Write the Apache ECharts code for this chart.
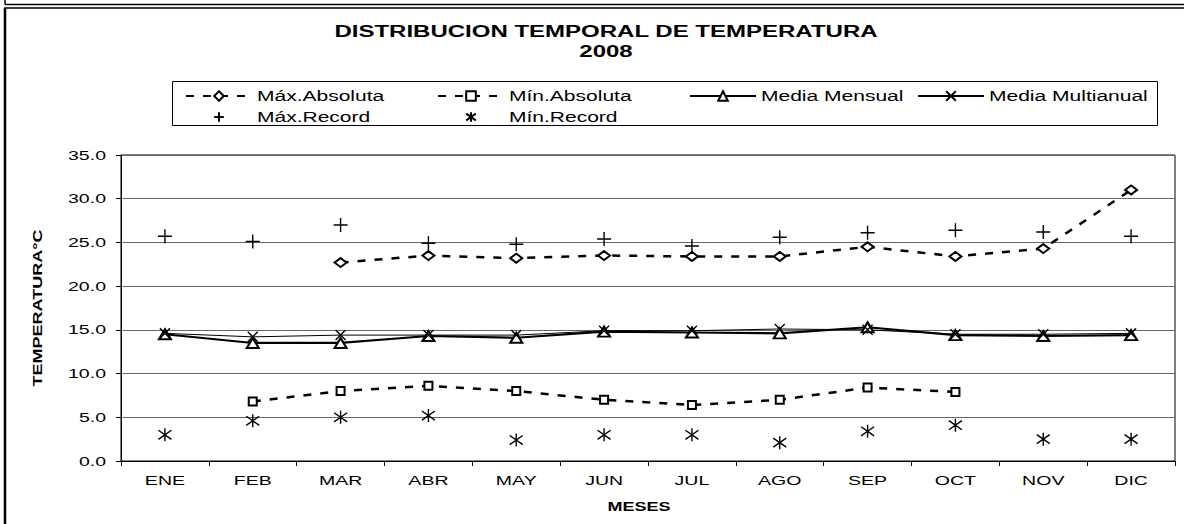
<!DOCTYPE html>
<html>
<head>
<meta charset="utf-8">
<script src="https://cdn.jsdelivr.net/npm/echarts@6/dist/echarts.min.js"></script>
<style>
  html, body { margin: 0; padding: 0; background: #fff; }
  #chart { width: 1184px; height: 524px; }
</style>
</head>
<body>
<div id="chart"></div>
<script>
// Meses y valores (°C)
const meses = ['ENE', 'FEB', 'MAR', 'ABR', 'MAY', 'JUN', 'JUL', 'AGO', 'SEP', 'OCT', 'NOV', 'DIC']
const maxAbsoluta = [null, null, 22.7, 23.5, 23.2, 23.5, 23.4, 23.4, 24.5, 23.4, 24.3, 31.0]
const minAbsoluta = [null, 6.8, 8.0, 8.6, 8.0, 7.0, 6.4, 7.0, 8.4, 7.9, null, null]
const mediaMensual = [14.5, 13.5, 13.5, 14.3, 14.1, 14.8, 14.7, 14.6, 15.3, 14.4, 14.3, 14.4]
const mediaMultianual = [14.6, 14.2, 14.4, 14.4, 14.4, 14.9, 14.9, 15.1, 15.0, 14.5, 14.5, 14.6]
const maxRecord = [25.7, 25.1, 27.0, 24.9, 24.8, 25.4, 24.6, 25.6, 26.1, 26.4, 26.2, 25.7]
const minRecord = [3.0, 4.6, 5.0, 5.2, 2.4, 3.0, 3.0, 2.1, 3.4, 4.1, 2.5, 2.5]
const yTicks = { min: 0, max: 35, interval: 5 }

const FONT = 'Liberation Sans, Arial, sans-serif'
const BLACK = '#000'

// simbolos de trazo (sin relleno)
const SYM_PLUS = 'path://M5,0L5,10M0,5L10,5'
const SYM_CROSS = 'path://M0,0L10,10M10,0L0,10'
const SYM_STAR = 'path://M0,1.5L10,8.5M10,1.5L0,8.5M5,0L5,10'

const chart = echarts.init(document.getElementById('chart'), null, { renderer: 'svg' })

const mark = { color: BLACK, borderColor: BLACK, borderWidth: 1.2 }

const series = [
  {
    type: 'line',
    name: 'Máx.Absoluta',
    data: maxAbsoluta,
    symbol: 'emptyDiamond',
    symbolSize: [12, 9],
    lineStyle: { color: BLACK, width: 2.5, type: [8, 9] },
    itemStyle: mark,
    z: 3,
  },
  {
    type: 'line',
    name: 'Mín.Absoluta',
    data: minAbsoluta,
    symbol: 'emptyRect',
    symbolSize: 8,
    lineStyle: { color: BLACK, width: 2.5, type: [8, 9] },
    itemStyle: mark,
    z: 3,
  },
  {
    type: 'line',
    name: 'Media Mensual',
    data: mediaMensual,
    symbol: 'emptyTriangle',
    symbolSize: [12, 10],
    lineStyle: { color: BLACK, width: 2.2 },
    itemStyle: mark,
    z: 3,
  },
  {
    type: 'line',
    name: 'Media Multianual',
    data: mediaMultianual,
    symbol: SYM_CROSS,
    symbolSize: 10,
    lineStyle: { color: BLACK, width: 1 },
    itemStyle: { ...mark, borderWidth: 1.4 },
    z: 3,
  },
  // records: solo marcadores, la linea va invisible (asi la leyenda centra el simbolo)
  {
    type: 'line',
    name: 'Máx.Record',
    data: maxRecord,
    symbol: SYM_PLUS,
    symbolSize: 14,
    lineStyle: { opacity: 0 },
    itemStyle: { ...mark, borderWidth: 1.4 },
    z: 4,
  },
  {
    type: 'line',
    name: 'Mín.Record',
    data: minRecord,
    symbol: SYM_STAR,
    symbolSize: 13,
    lineStyle: { opacity: 0 },
    itemStyle: { ...mark, borderWidth: 1.4 },
    z: 4,
  },
]

// posicion de cada entrada de la leyenda (dos filas)
const legendPos = [
  [180, 84], [432, 84], [684, 84], [912, 84],
  [180, 105], [432, 105],
]
const legends = series.map((s, i) => ({
  data: [s.name],
  left: legendPos[i][0],
  top: legendPos[i][1],
  itemWidth: 66,
  itemHeight: 12,
  itemGap: 0,
  selectedMode: false,
  textStyle: { fontFamily: FONT, fontSize: 14, color: BLACK },
}))

const option = {
  backgroundColor: '#fff',
  animation: false,
  title: {
    text: 'DISTRIBUCION TEMPORAL DE TEMPERATURA\n2008',
    left: 601,
    top: 16,
    textAlign: 'center',
    textStyle: { fontFamily: FONT, fontSize: 16, fontWeight: 'bold', color: BLACK, lineHeight: 20 },
  },
  legend: legends,
  graphic: [
    // marco exterior
    { type: 'line', shape: { x1: 5, y1: 4.5, x2: 1184, y2: 4.5 }, style: { stroke: BLACK, lineWidth: 1.5 } },
    { type: 'line', shape: { x1: 5, y1: 0, x2: 5, y2: 4.5 }, style: { stroke: BLACK, lineWidth: 1.5 } },
    { type: 'line', shape: { x1: 4, y1: 8, x2: 1184, y2: 8 }, style: { stroke: BLACK, lineWidth: 1.5 } },
    { type: 'line', shape: { x1: 5, y1: 8, x2: 5, y2: 524 }, style: { stroke: BLACK, lineWidth: 2.5 } },
    // recuadro de la leyenda
    { type: 'rect', shape: { x: 172.5, y: 81.5, width: 985, height: 44 }, style: { fill: 'none', stroke: BLACK, lineWidth: 1 }, z: -1 },
  ],
  grid: {
    left: 121,
    right: 9,
    top: 155,
    bottom: 63,
    show: true,
    borderColor: BLACK,
    borderWidth: 1,
    backgroundColor: '#fff',
  },
  xAxis: {
    type: 'category',
    data: meses,
    boundaryGap: true,
    name: 'MESES',
    nameLocation: 'middle',
    nameGap: 40,
    nameTextStyle: { fontFamily: FONT, fontSize: 12, fontWeight: 'bold', color: BLACK, padding: [0, 18, 0, 0] },
    axisLine: { lineStyle: { color: BLACK, width: 1 } },
    axisTick: { show: true, alignWithLabel: false, length: 5, lineStyle: { color: BLACK } },
    axisLabel: { fontFamily: FONT, fontSize: 13, color: BLACK, margin: 13 },
    splitLine: { show: false },
  },
  yAxis: {
    type: 'value',
    min: yTicks.min,
    max: yTicks.max,
    interval: yTicks.interval,
    name: 'TEMPERATURA°C',
    nameLocation: 'middle',
    nameGap: 77,
    nameRotate: 90,
    nameTextStyle: { fontFamily: FONT, fontSize: 12, fontWeight: 'bold', color: BLACK },
    axisLine: { show: true, lineStyle: { color: BLACK, width: 1 } },
    axisTick: { show: true, length: 5, lineStyle: { color: BLACK } },
    axisLabel: {
      fontFamily: FONT, fontSize: 13, color: BLACK, margin: 15,
      formatter: (v) => v.toFixed(1),
    },
    splitLine: { show: true, lineStyle: { color: '#666', width: 1 } },
  },
  series: series,
}

chart.setOption(option)

// El original tiene todo el texto estirado en horizontal (~1.5x).
// Se imita con textLength sobre los <text> del SVG, una sola vez por elemento.
function stretchTexts() {
  document.querySelectorAll('#chart text').forEach((t) => {
    if (t.dataset.stretched) return
    const w = t.getComputedTextLength()
    if (!w) return
    t.setAttribute('textLength', (w * 1.5).toFixed(1))
    t.setAttribute('lengthAdjust', 'spacingAndGlyphs')
    t.dataset.stretched = '1'
  })
}
stretchTexts()
chart.on('finished', stretchTexts)
</script>
</body>
</html>
